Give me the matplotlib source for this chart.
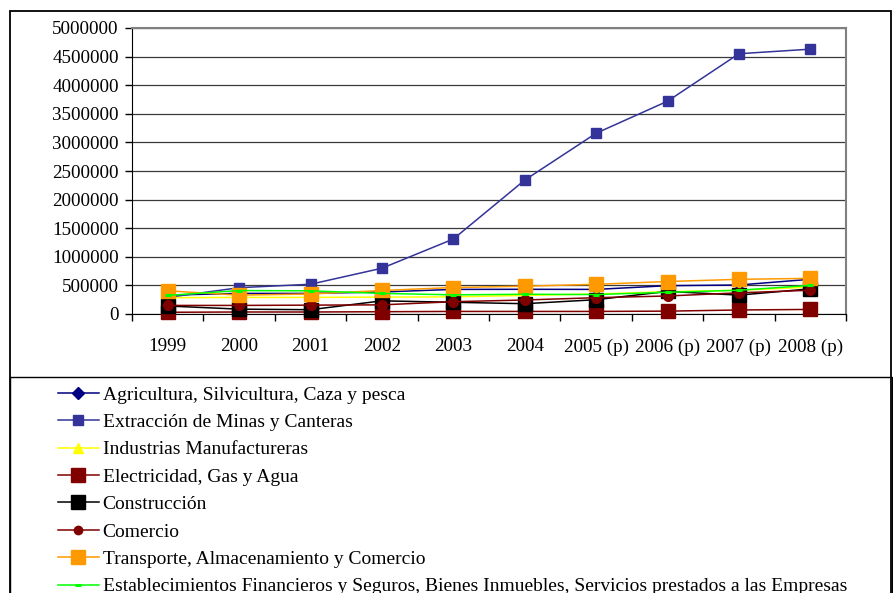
import matplotlib
matplotlib.use("Agg")
import matplotlib.pyplot as plt
from matplotlib.lines import Line2D
from matplotlib.patches import Rectangle
from matplotlib.ticker import FuncFormatter

plt.rcParams['font.family'] = ['Liberation Serif', 'DejaVu Serif']

# Data
years = ['1999', '2000', '2001', '2002', '2003', '2004',
         '2005 (p)', '2006 (p)', '2007 (p)', '2008 (p)']

agricultura = [330000, 360000, 360000, 385000, 430000, 432000, 430000, 495000, 507000, 607000]
extraccion = [290000, 460000, 520000, 800000, 1310000, 2340000, 3160000, 3720000, 4550000, 4630000]
industrias = [285000, 290000, 290000, 295000, 300000, 325000, 350000, 390000, 415000, 470000]
electricidad = [30000, 35000, 35000, 40000, 45000, 45000, 45000, 50000, 70000, 80000]
construccion = [140000, 85000, 75000, 230000, 205000, 180000, 250000, 395000, 330000, 440000]
comercio = [150000, 150000, 155000, 160000, 215000, 245000, 285000, 315000, 370000, 415000]
transporte = [405000, 330000, 350000, 411000, 463000, 486000, 519000, 568000, 606000, 623000]
financieros = [325000, 410000, 405000, 360000, 335000, 345000, 340000, 380000, 415000, 500000]

labels = ['Agricultura, Silvicultura, Caza y pesca',
          'Extracción de Minas y Canteras',
          'Industrias Manufactureras',
          'Electricidad, Gas y Agua',
          'Construcción',
          'Comercio',
          'Transporte, Almacenamiento y Comercio',
          'Establecimientos Financieros y Seguros, Bienes Inmuebles, Servicios prestados a las Empresas']

series = [agricultura, extraccion, industrias, electricidad,
          construccion, comercio, transporte, financieros]

# line colour, marker, marker size (pt), marker edge width
styles = [
    ('#000080', 'D', 5.5, 1.0),
    ('#333399', 's', 7.0, 1.0),
    ('#FFFF00', '^', 7.0, 1.0),
    ('#800000', 's', 10.5, 1.0),
    ('#000000', 's', 10.0, 1.0),
    ('#800000', 'o', 7.0, 1.0),
    ('#FF9900', 's', 10.5, 1.0),
    ('#00FF00', '_', 4.5, 2.2),
]

W, H = 893, 593
fig = plt.figure(figsize=(W / 100, H / 100), dpi=100)
ax = fig.add_axes([132 / W, 1 - 314 / H, (846 - 132) / W, (314 - 28) / H])

x = list(range(len(years)))
for i, (vals, (col, mk, ms, mew)) in enumerate(zip(series, styles)):
    ax.plot(x, vals, color=col, lw=1.1, marker=mk, ms=ms,
            mfc=col, mec=col, mew=mew, zorder=3 + i, clip_on=False)

ax.set_xlim(-0.5, len(years) - 0.5)
ax.set_ylim(0, 5000000)
ax.set_yticks(range(0, 5000001, 500000))
ax.yaxis.set_major_formatter(FuncFormatter(lambda v, p: f'{int(v)}'))

# category boundaries get the tick marks, labels sit in the middle
ax.set_xticks([k - 0.5 for k in range(len(years) + 1)])
ax.set_xticklabels([])
ax.set_xticks(x, minor=True)
ax.set_xticklabels(years, minor=True)
ax.tick_params(axis='x', which='major', length=5, width=1, color='black')
ax.tick_params(axis='x', which='minor', length=0, pad=17.5, labelsize=13.8)
ax.tick_params(axis='y', length=5, width=1, pad=4.5, labelsize=13.7)

ax.grid(axis='y', color='#3a3a3a', lw=0.9)
ax.set_axisbelow(True)
for s in ['top', 'right']:
    ax.spines[s].set_color('#808080')
    ax.spines[s].set_linewidth(1.5)
ax.spines['left'].set_color('black')
ax.spines['bottom'].set_color('black')

# outer chart border and legend box (both run past the bottom edge)
fig.patches.append(Rectangle((10 / W, -0.1), (891 - 10) / W, 1 - 11 / H + 0.1,
                             transform=fig.transFigure, fill=False,
                             edgecolor='black', lw=1.3))
fig.patches.append(Rectangle((10 / W, -0.1), (892 - 10) / W, 1 - 377 / H + 0.1,
                             transform=fig.transFigure, fill=False,
                             edgecolor='black', lw=1.0))

leg_handles = []
for col, mk, ms, mew in styles:
    lms = {'D': 6, 's': ms if ms > 8 else 6.5, '^': 7, 'o': 6, '_': 4.5}[mk]
    leg_handles.append(Line2D([], [], color=col, lw=1.1, marker=mk, ms=lms,
                              mfc=col, mec=col, mew=mew))

fig.legend(leg_handles, labels, loc='upper left',
           bbox_to_anchor=(58 / W, 1 - 386 / H), frameon=False,
           fontsize=14, handlelength=2.1, handletextpad=0.2,
           labelspacing=0.503, borderpad=0, borderaxespad=0)

fig.savefig('out.png', dpi=100)
